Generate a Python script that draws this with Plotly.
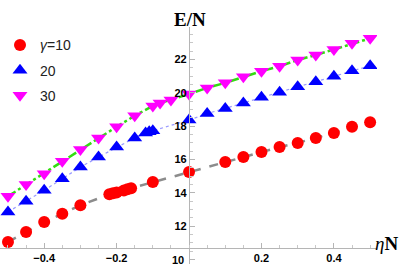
import plotly.graph_objects as go

# gamma = 10
x10 = [-0.5, -0.45, -0.4, -0.35, -0.3, -0.22, -0.21, -0.2, -0.18, -0.17, -0.16, -0.1, 0.0,
       0.1, 0.15, 0.2, 0.25, 0.3, 0.35, 0.4, 0.45, 0.5]
y10 = [11.06, 11.66, 12.26, 12.75, 13.26, 13.92, 13.98, 14.03, 14.15, 14.22, 14.28, 14.65, 15.25,
       15.86, 16.15, 16.45, 16.75, 17.0, 17.3, 17.6, 17.97, 18.24]
# gamma = 20
x20 = [-0.5, -0.45, -0.4, -0.35, -0.3, -0.25, -0.2, -0.15, -0.12, -0.11, -0.1, 0.0,
       0.05, 0.1, 0.15, 0.2, 0.25, 0.3, 0.35, 0.4, 0.45, 0.5]
y20 = [12.86, 13.5, 14.16, 14.85, 15.55, 16.15, 16.75, 17.3, 17.6, 17.67, 17.73, 18.37,
       18.76, 19.07, 19.4, 19.74, 20.04, 20.37, 20.67, 21.0, 21.33, 21.63]
# gamma = 30
x30 = [-0.5, -0.45, -0.4, -0.35, -0.3, -0.25, -0.2, -0.15, -0.1, -0.08, -0.05, 0.0,
       0.05, 0.1, 0.15, 0.2, 0.25, 0.3, 0.35, 0.4, 0.45, 0.5]
y30 = [13.8, 14.5, 15.15, 15.9, 16.6, 17.3, 17.97, 18.63, 19.22, 19.4, 19.58, 19.93,
       20.3, 20.6, 20.97, 21.3, 21.6, 21.97, 22.27, 22.6, 22.97, 23.27]

names = ["<i>γ</i>=10", "20", "30"]
xtickvals = [-0.4, -0.2, 0.2, 0.4]
xticktext = ["−0.4", "−0.2", "0.2", "0.4"]
ytickvals = [10, 12, 14, 16, 18, 20, 22]
yticktext = ["", "12", "14", "16", "18", "20", "22"]

fig = go.Figure()
# fitted lines (drawn under markers)
fig.add_trace(go.Scatter(x=x10, y=y10, mode="lines", showlegend=False,
                         line=dict(color="#8c8c8c", width=2.5, dash="dash")))
fig.add_trace(go.Scatter(x=x20, y=y20, mode="lines", showlegend=False,
                         line=dict(color="#9a9aff", width=1.2, dash="dot")))
fig.add_trace(go.Scatter(x=x30, y=y30, mode="lines", showlegend=False,
                         line=dict(color="#33dd11", width=2.5, dash="dashdot")))
# markers
fig.add_trace(go.Scatter(x=x10, y=y10, mode="markers", name=names[0], legendgroup="a",
                         marker=dict(symbol="circle", size=12, color="#ff0000", line=dict(width=0))))
fig.add_trace(go.Scatter(x=x20, y=y20, mode="markers", name=names[1], legendgroup="b",
                         marker=dict(symbol="triangle-up", size=13, color="#0000ff", line=dict(width=0))))
fig.add_trace(go.Scatter(x=x30, y=y30, mode="markers", name=names[2], legendgroup="c",
                         marker=dict(symbol="triangle-down", size=13, color="#ff00ff", line=dict(width=0))))

tickfont = dict(family="Liberation Sans, Arial", size=11, color="black", weight="bold")
fig.update_layout(
    template="none",
    width=415, height=264, autosize=False,
    margin=dict(l=0, r=38, t=27, b=0, autoexpand=False),
    plot_bgcolor="white", paper_bgcolor="white",
    showlegend=True,
    legend=dict(x=0, y=0.99, xanchor="left", yanchor="top",
                font=dict(family="Liberation Sans, Arial", size=14, color="#222222"),
                tracegroupgap=4, bgcolor="rgba(0,0,0,0)", itemsizing="trace"),
    xaxis=dict(range=[-0.522, 0.519], showgrid=False, zeroline=False, automargin=False,
               anchor="free", position=0.0675,
               showline=True, linecolor="#b5b5b5", linewidth=1,
               ticks="inside", ticklen=5, tickcolor="#b5b5b5",
               tickvals=xtickvals, ticktext=xticktext,
               tickfont=tickfont, ticklabeloverflow="allow", ticklabelstandoff=0,
               minor=dict(dtick=0.05, tick0=0, ticks="inside", ticklen=3, tickcolor="#c8c8c8")),
    yaxis=dict(range=[9.74, 23.95], showgrid=False, zeroline=False, automargin=False,
               anchor="free", position=0.501,
               showline=True, linecolor="#b5b5b5", linewidth=1,
               ticks="inside", ticklen=5, tickcolor="#b5b5b5",
               tickvals=ytickvals, ticktext=yticktext, tickfont=tickfont, ticklabeloverflow="allow",
               minor=dict(dtick=0.5, tick0=0, ticks="inside", ticklen=3, tickcolor="#c8c8c8")),
    annotations=[
        dict(text="<b>E/N</b>", xref="paper", yref="paper", x=0.503, y=1.085,
             showarrow=False, font=dict(family="Liberation Serif, Times New Roman", size=19, color="black")),
        dict(text="<i>η</i><b>N</b>", xref="paper", yref="paper", x=1.062, y=0.035,
             showarrow=False, font=dict(family="Liberation Serif, Times New Roman", size=19, color="black")),
        dict(text="10", x=0, y=ytickvals[0], xref="x", yref="y", xanchor="right", yanchor="middle",
             xshift=-3, showarrow=False, font=tickfont),
    ],
)

fig.write_html("out.html", config={"displayModeBar": False},
               post_script="document.body.style.margin='0px';document.body.style.padding='0px';")
